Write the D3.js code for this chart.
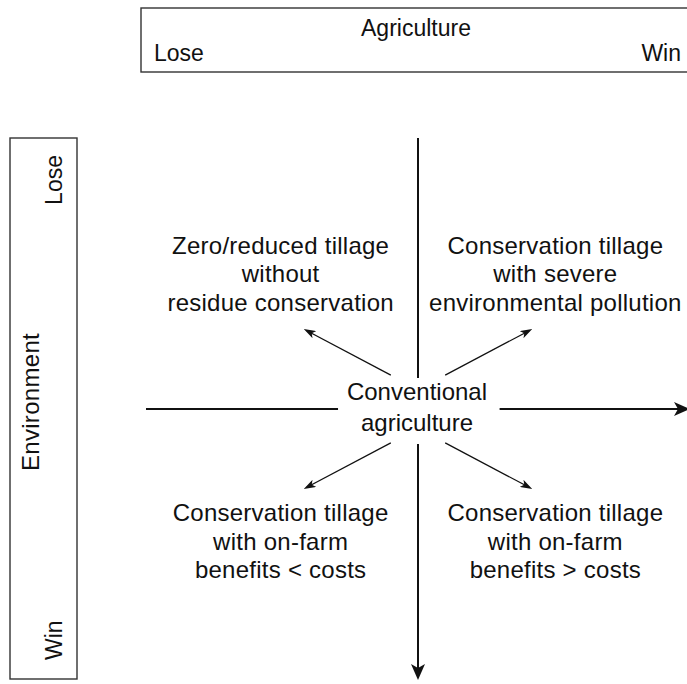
<!DOCTYPE html>
<html>
<head>
<meta charset="utf-8">
<script src="https://cdn.jsdelivr.net/npm/d3@7"></script>
<style>
  body { margin: 0; background: #fff; }
  text { font-family: "Liberation Sans", Arial, Helvetica, sans-serif; fill: #111; }
</style>
</head>
<body>
<div id="chart"></div>
<script>
// diagram content
var axisTitles = ["Agriculture", "Environment"];
var outcomeLabels = ["Lose", "Win"];
var centerLabel = ["Conventional", "agriculture"];
var quadrantLabels = [
  ["Zero/reduced tillage", "without", "residue conservation"],
  ["Conservation tillage", "with severe", "environmental pollution"],
  ["Conservation tillage", "with on-farm", "benefits < costs"],
  ["Conservation tillage", "with on-farm", "benefits > costs"]
];
// -1 = lose, 1 = win
var quadrantAgri = [-1, 1, -1, 1];
var quadrantEnv = [-1, -1, 1, 1];

var width = 687;
var height = 684;

// agriculture runs left (lose) to right (win), environment top (lose) to bottom (win)
var x = d3.scaleLinear().domain([-1, 1]).range([146, 690]);
var y = d3.scaleLinear().domain([-1, 1]).range([138, 680]);

var svg = d3.select('#chart')
  .append('svg')
    .attr('width', width)
    .attr('height', height);

svg.append('rect')
  .attr('width', width)
  .attr('height', height)
  .attr('fill', '#fff');

var defs = svg.append('defs');

defs.append('marker')
    .attr('id', 'bigArrow')
    .attr('markerUnits', 'userSpaceOnUse')
    .attr('viewBox', '0 0 16 14')
    .attr('markerWidth', 16)
    .attr('markerHeight', 14)
    .attr('refX', 12)
    .attr('refY', 7)
    .attr('orient', 'auto')
  .append('path')
    .attr('d', 'M0,0 L16,7 L0,14 L4,7 Z')
    .attr('fill', '#111');

defs.append('marker')
    .attr('id', 'smallArrow')
    .attr('markerUnits', 'userSpaceOnUse')
    .attr('viewBox', '0 0 12 8')
    .attr('markerWidth', 12)
    .attr('markerHeight', 8)
    .attr('refX', 9)
    .attr('refY', 4)
    .attr('orient', 'auto')
  .append('path')
    .attr('d', 'M0,0 L12,4 L0,8 L3,4 Z')
    .attr('fill', '#111');

// pull the end of a line back so it hides under the arrow head
function shorten(x1, y1, x2, y2, n) {
  var dx = x2 - x1, dy = y2 - y1;
  var len = Math.sqrt(dx * dx + dy * dy);
  return [x2 - dx / len * n, y2 - dy / len * n];
}

// top box: agriculture
svg.append('rect')
  .attr('x', 141).attr('y', 8)
  .attr('width', 570).attr('height', 64)
  .attr('fill', 'none')
  .attr('stroke', '#333')
  .attr('stroke-width', 1.4);

svg.append('text')
  .attr('x', x(0) - 2).attr('y', 36)
  .attr('text-anchor', 'middle')
  .attr('font-size', 23)
  .text(axisTitles[0]);

svg.append('text')
  .attr('x', 154).attr('y', 61)
  .attr('font-size', 23)
  .text(outcomeLabels[0]);

svg.append('text')
  .attr('x', 681).attr('y', 61)
  .attr('text-anchor', 'end')
  .attr('font-size', 23)
  .text(outcomeLabels[1]);

// left box: environment
svg.append('rect')
  .attr('x', 10).attr('y', y(-1))
  .attr('width', 67).attr('height', y(1) - y(-1) - 1)
  .attr('fill', 'none')
  .attr('stroke', '#333')
  .attr('stroke-width', 1.4);

svg.append('text')
  .attr('transform', 'translate(39,' + 402 + ') rotate(-90)')
  .attr('text-anchor', 'middle')
  .attr('font-size', 24)
  .attr('letter-spacing', 0.3)
  .text(axisTitles[1]);

svg.append('text')
  .attr('transform', 'translate(62,155) rotate(-90)')
  .attr('text-anchor', 'end')
  .attr('font-size', 23)
  .text(outcomeLabels[0]);

svg.append('text')
  .attr('transform', 'translate(62,660) rotate(-90)')
  .attr('text-anchor', 'start')
  .attr('font-size', 23)
  .text(outcomeLabels[1]);

// main axes, broken around the centre label
var hSegments = [[-1, -0.294], [0.30, 1]];
var vSegments = [[-1, -0.114], [0.129, 1]];

svg.selectAll('.hAxis')
  .data(hSegments)
  .join('line')
    .attr('class', 'hAxis')
    .attr('x1', d => x(d[0]))
    .attr('x2', (d, i) => i === 1 ? x(d[1]) - 4 : x(d[1]))
    .attr('y1', y(0))
    .attr('y2', y(0))
    .attr('stroke', '#111')
    .attr('stroke-width', 2)
    .attr('marker-end', (d, i) => i === 1 ? 'url(#bigArrow)' : null);

svg.selectAll('.vAxis')
  .data(vSegments)
  .join('line')
    .attr('class', 'vAxis')
    .attr('x1', x(0))
    .attr('x2', x(0))
    .attr('y1', d => y(d[0]))
    .attr('y2', (d, i) => i === 1 ? y(d[1]) - 4 : y(d[1]))
    .attr('stroke', '#111')
    .attr('stroke-width', 2)
    .attr('marker-end', (d, i) => i === 1 ? 'url(#bigArrow)' : null);

// centre label
svg.append('text')
  .attr('x', x(0) - 1)
  .attr('y', y(0) - 9)
  .attr('text-anchor', 'middle')
  .attr('font-size', 24)
  .selectAll('tspan')
  .data(centerLabel)
  .join('tspan')
    .attr('x', x(0) - 1)
    .attr('dy', (d, i) => i === 0 ? 0 : 31)
    .text(d => d);

// diagonal arrows from the centre to each quadrant
var arrowStart = [0.1, 0.125];
var arrowTip = [0.42, 0.295];

svg.selectAll('.diag')
  .data(quadrantLabels)
  .join('line')
    .attr('class', 'diag')
    .each(function(d, i) {
      var x1 = x(quadrantAgri[i] * arrowStart[0]);
      var y1 = y(quadrantEnv[i] * arrowStart[1]);
      var x2 = x(quadrantAgri[i] * arrowTip[0]);
      var y2 = y(quadrantEnv[i] * arrowTip[1]);
      var end = shorten(x1, y1, x2, y2, 3);
      d3.select(this)
        .attr('x1', x1).attr('y1', y1)
        .attr('x2', end[0]).attr('y2', end[1]);
    })
    .attr('stroke', '#111')
    .attr('stroke-width', 1.3)
    .attr('marker-end', 'url(#smallArrow)');

// quadrant labels
var labelDist = [0.505, 0.493];
var lineH = 28.5;

svg.selectAll('.quad')
  .data(quadrantLabels)
  .join('text')
    .attr('class', 'quad')
    .attr('text-anchor', 'middle')
    .attr('font-size', 24)
    .attr('letter-spacing', 0.25)
    .attr('x', (d, i) => x(quadrantAgri[i] * labelDist[0]))
    .attr('y', (d, i) => y(quadrantEnv[i] * labelDist[1]) + 7 - lineH)
  .selectAll('tspan')
  .data((d, i) => d.map(t => ({text: t, q: i})))
  .join('tspan')
    .attr('x', d => x(quadrantAgri[d.q] * labelDist[0]))
    .attr('dy', (d, j) => j === 0 ? 0 : lineH)
    .text(d => d.text);
</script>
</body>
</html>
